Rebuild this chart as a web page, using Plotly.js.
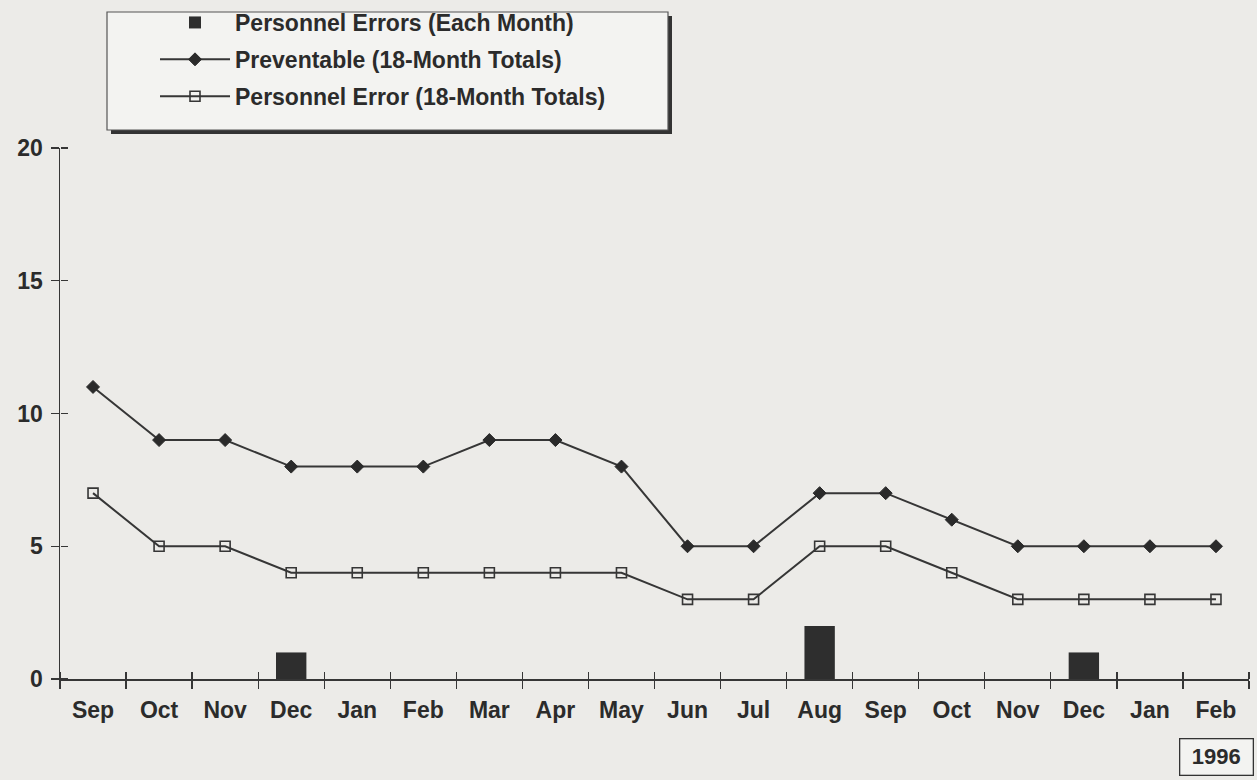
<!DOCTYPE html>
<html>
<head>
<meta charset="utf-8">
<script src="https://cdn.plot.ly/plotly-3.0.1.min.js"></script>
<style>
html,body{margin:0;padding:0;background:#ecebe8;}
#chart{width:1257px;height:780px;}
</style>
</head>
<body>
<div id="chart"></div>
<script>
// ---- data ----
var months = ["Sep","Oct","Nov","Dec","Jan","Feb","Mar","Apr","May","Jun","Jul","Aug","Sep","Oct","Nov","Dec","Jan","Feb"];
var personnelErrorsEachMonth = [0,0,0,1,0,0,0,0,0,0,0,2,0,0,0,1,0,0];
var preventable18 = [11,9,9,8,8,8,9,9,8,5,5,7,7,6,5,5,5,5];
var personnelError18 = [7,5,5,4,4,4,4,4,4,3,3,5,5,4,3,3,3,3];
var yTicks = [0,5,10,15,20];
var yearLabel = "1996";

// ---- geometry helpers ----
var W = 1257, H = 780;
var M = {l:60, r:8, t:148, b:101, autoexpand: false};
var pw = W - M.l - M.r, ph = H - M.t - M.b;
function px(x){ return (x - M.l) / pw; }
function py(y){ return (H - M.b - y) / ph; }

var idx = months.map(function(_, i){ return i; });
var bounds = [];
for (var i = 0; i <= months.length; i++) bounds.push(i - 0.5);
var xRange = [-0.5, months.length - 0.5];
var yRange = [0, 20];

var ink = "#2b2b2b";
var lineCol = "#363636";
var fontFam = "Liberation Sans, Arial, sans-serif";

var traces = [
  {
    type: "bar", x: idx, y: personnelErrorsEachMonth, width: 0.46,
    name: "Personnel Errors (Each Month)",
    marker: {color: "#2e2e2e", line: {width: 0}},
    legendgroup: "a"
  },
  {
    type: "scatter", mode: "lines+markers", x: idx, y: preventable18,
    name: "Preventable (18-Month Totals)",
    line: {color: lineCol, width: 2},
    marker: {symbol: "diamond", size: 10, color: "#2a2a2a", line: {color: "#2a2a2a", width: 1}},
    legendgroup: "b"
  },
  {
    type: "scatter", mode: "lines+markers", x: idx, y: personnelError18,
    name: "Personnel Error (18-Month Totals)",
    line: {color: lineCol, width: 2},
    marker: {symbol: "square-open", size: 10, color: "#363636", line: {color: "#363636", width: 1.6}},
    legendgroup: "c"
  },
  // carrier trace so the tick-only axes (inner half of the crossing ticks) are drawn
  {
    type: "scatter", mode: "markers", x: [xRange[0]], y: [yRange[0]],
    xaxis: "x2", yaxis: "y2", marker: {opacity: 0, size: 1},
    showlegend: false, hoverinfo: "skip"
  }
];

var tickFont = {family: fontFam, size: 23, color: ink, weight: "bold"};

var layout = {
  width: W, height: H,
  margin: M,
  paper_bgcolor: "#ecebe8",
  plot_bgcolor: "#ecebe8",
  font: {family: fontFam, color: ink, size: 20},
  showlegend: true,
  xaxis: {
    range: xRange,
    tickmode: "array", tickvals: idx, ticktext: months,
    ticks: "", showgrid: false, zeroline: false,
    showline: true, linecolor: lineCol, linewidth: 1.5,
    tickfont: tickFont,
    ticklabelstandoff: 10,
    minor: {tickmode: "array", tickvals: bounds, ticks: "outside", ticklen: 8, tickwidth: 1.3, tickcolor: lineCol, showgrid: false},
    fixedrange: true
  },
  xaxis2: {
    overlaying: "x", anchor: "free", position: 0, side: "top", range: xRange,
    tickmode: "array", tickvals: bounds, showticklabels: false,
    ticks: "outside", ticklen: 7, tickwidth: 1.3, tickcolor: lineCol,
    showgrid: false, zeroline: false, showline: false, fixedrange: true
  },
  yaxis: {
    range: yRange,
    tickmode: "array", tickvals: yTicks, ticktext: yTicks.map(String),
    ticks: "outside", ticklen: 8, tickwidth: 1.3, tickcolor: lineCol,
    showgrid: false, zeroline: false,
    showline: true, linecolor: lineCol, linewidth: 1.5,
    tickfont: tickFont,
    ticklabelstandoff: 3,
    fixedrange: true
  },
  yaxis2: {
    overlaying: "y", anchor: "free", position: 0, side: "right", range: yRange,
    tickmode: "array", tickvals: yTicks, showticklabels: false,
    ticks: "outside", ticklen: 7, tickwidth: 1.3, tickcolor: lineCol,
    showgrid: false, zeroline: false, showline: false, fixedrange: true
  },
  legend: {
    x: px(155), y: py(1), xanchor: "left", yanchor: "top",
    bgcolor: "rgba(0,0,0,0)", borderwidth: 0,
    font: {family: fontFam, size: 23, color: ink, weight: "bold"},
    traceorder: "grouped", tracegroupgap: 4,
    itemwidth: 70
  },
  shapes: [
    {type: "rect", xref: "paper", yref: "paper",
     x0: px(111), x1: px(672), y0: py(134), y1: py(16),
     fillcolor: "#333", line: {width: 0}, layer: "above"},
    {type: "rect", xref: "paper", yref: "paper",
     x0: px(107), x1: px(668), y0: py(130), y1: py(12),
     fillcolor: "#f3f3f1", line: {color: "#555", width: 1.2}, layer: "above"}
  ],
  annotations: [
    {xref: "paper", yref: "paper", x: px(1216), y: py(757),
     xanchor: "center", yanchor: "middle", showarrow: false,
     text: "<b>" + yearLabel + "</b>",
     font: {family: fontFam, size: 22, color: ink},
     bordercolor: "#333", borderwidth: 1.3, borderpad: 5,
     bgcolor: "#f3f3f1", width: 62}
  ]
};

Plotly.newPlot("chart", traces, layout, {displayModeBar: false, staticPlot: true});
</script>
</body>
</html>
